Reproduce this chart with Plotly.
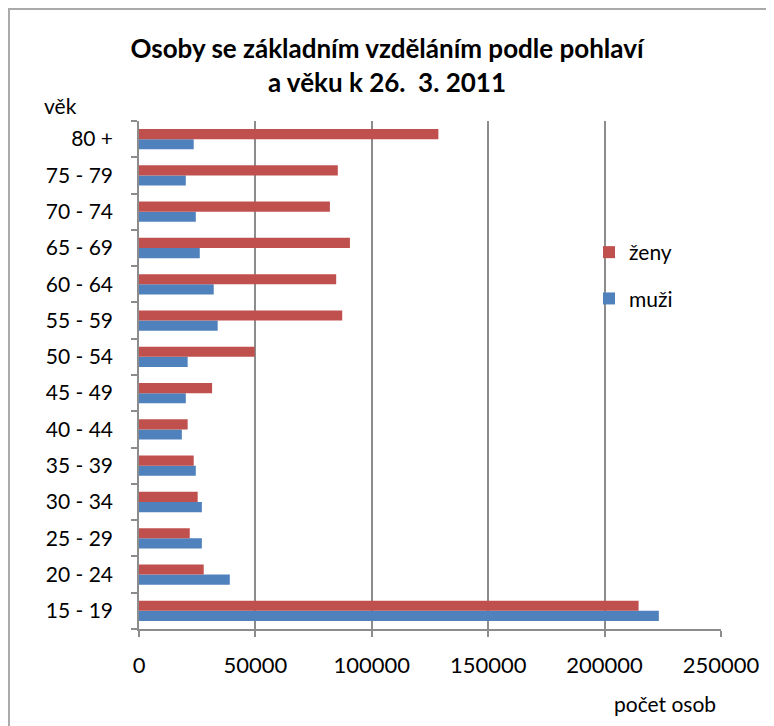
import plotly.graph_objects as go

categories = ["15 - 19", "20 - 24", "25 - 29", "30 - 34", "35 - 39", "40 - 44", "45 - 49",
              "50 - 54", "55 - 59", "60 - 64", "65 - 69", "70 - 74", "75 - 79", "80 +"]
zeny = [214600, 27800, 21800, 25200, 23500, 20900, 31400,
        49700, 87300, 84700, 90600, 82000, 85400, 128600]
muzi = [223300, 39000, 27000, 27000, 24400, 18400, 20100,
        20900, 33800, 32100, 26100, 24400, 20100, 23500]
x_ticks = [0, 50000, 100000, 150000, 200000, 250000]

FONT = "Lato"
W, H = 774, 726
OFF = 8  # page body margin
# desired screen positions of the plot area
SL, SR, ST, SB = 139, 721, 121, 629
L, T = SL - OFF, ST - OFF
R = W - (SR - OFF)
B = H - (SB - OFF)
PW, PH = W - L - R, H - T - B


def px_x(x):
    return (x - OFF - L) / PW


def px_y(y):
    return (H - B - (y - OFF)) / PH


fig = go.Figure()
fig.add_trace(go.Bar(y=categories, x=muzi, orientation="h", name="muži",
                     marker=dict(color="#4F81BD", line=dict(width=0)),
                     legendgroup="m", legendrank=2))
fig.add_trace(go.Bar(y=categories, x=zeny, orientation="h", name="ženy",
                     marker=dict(color="#C0504D", line=dict(width=0)),
                     legendgroup="z", legendrank=1))

fig.update_layout(
    width=W, height=H,
    margin=dict(l=L, r=R, t=T, b=B, autoexpand=False),
    paper_bgcolor="white", plot_bgcolor="white",
    barmode="group", bargap=0.44, bargroupgap=0,
    font=dict(family=FONT, size=21, color="#000000"),
    title=dict(text="<b>Osoby se základním vzděláním podle pohlaví<br>a věku k 26.  3. 2011</b>",
               x=(387 - OFF) / W, xanchor="center", xref="container", yref="container",
               y=1 - (58 - OFF) / H, yanchor="middle",
               font=dict(family=FONT, size=26, color="#000000")),
    showlegend=True,
    legend=dict(x=px_x(589), y=px_y(232), xanchor="left", yanchor="top",
                traceorder="grouped", tracegroupgap=16,
                bgcolor="rgba(0,0,0,0)", font=dict(family=FONT, size=21)),
    xaxis=dict(range=[0, 250000], tickvals=x_ticks, ticktext=[str(v) for v in x_ticks],
               showgrid=True, gridcolor="#8C8C8C", gridwidth=1.5,
               showline=True, linecolor="#8C8C8C", linewidth=1.5,
               ticks="outside", ticklen=6, tickcolor="#8C8C8C", tickwidth=1.5,
               ticklabelstandoff=10, zeroline=False, automargin=False,
               tickfont=dict(size=22)),
    yaxis=dict(type="category", categoryorder="array", categoryarray=categories,
               showgrid=False, showline=True, linecolor="#8C8C8C", linewidth=1.5,
               ticks="outside", ticklen=6, tickcolor="#8C8C8C", tickwidth=1.5,
               tickson="boundaries", ticklabelstandoff=20, automargin=False),
)

fig.add_annotation(text="věk", xref="paper", yref="paper",
                   x=px_x(60), y=px_y(105),
                   xanchor="center", yanchor="middle", showarrow=False,
                   font=dict(family=FONT, size=21))
fig.add_annotation(text="počet osob", xref="paper", yref="paper",
                   x=px_x(665), y=px_y(703),
                   xanchor="center", yanchor="middle", showarrow=False,
                   font=dict(family=FONT, size=21))

# outer chart border
fig.add_shape(type="rect", xref="paper", yref="paper",
              x0=px_x(9), x1=px_x(800), y0=px_y(760), y1=px_y(9),
              line=dict(color="#AAAAAA", width=2), fillcolor="rgba(0,0,0,0)", layer="above")

fig.write_html("out.html")
